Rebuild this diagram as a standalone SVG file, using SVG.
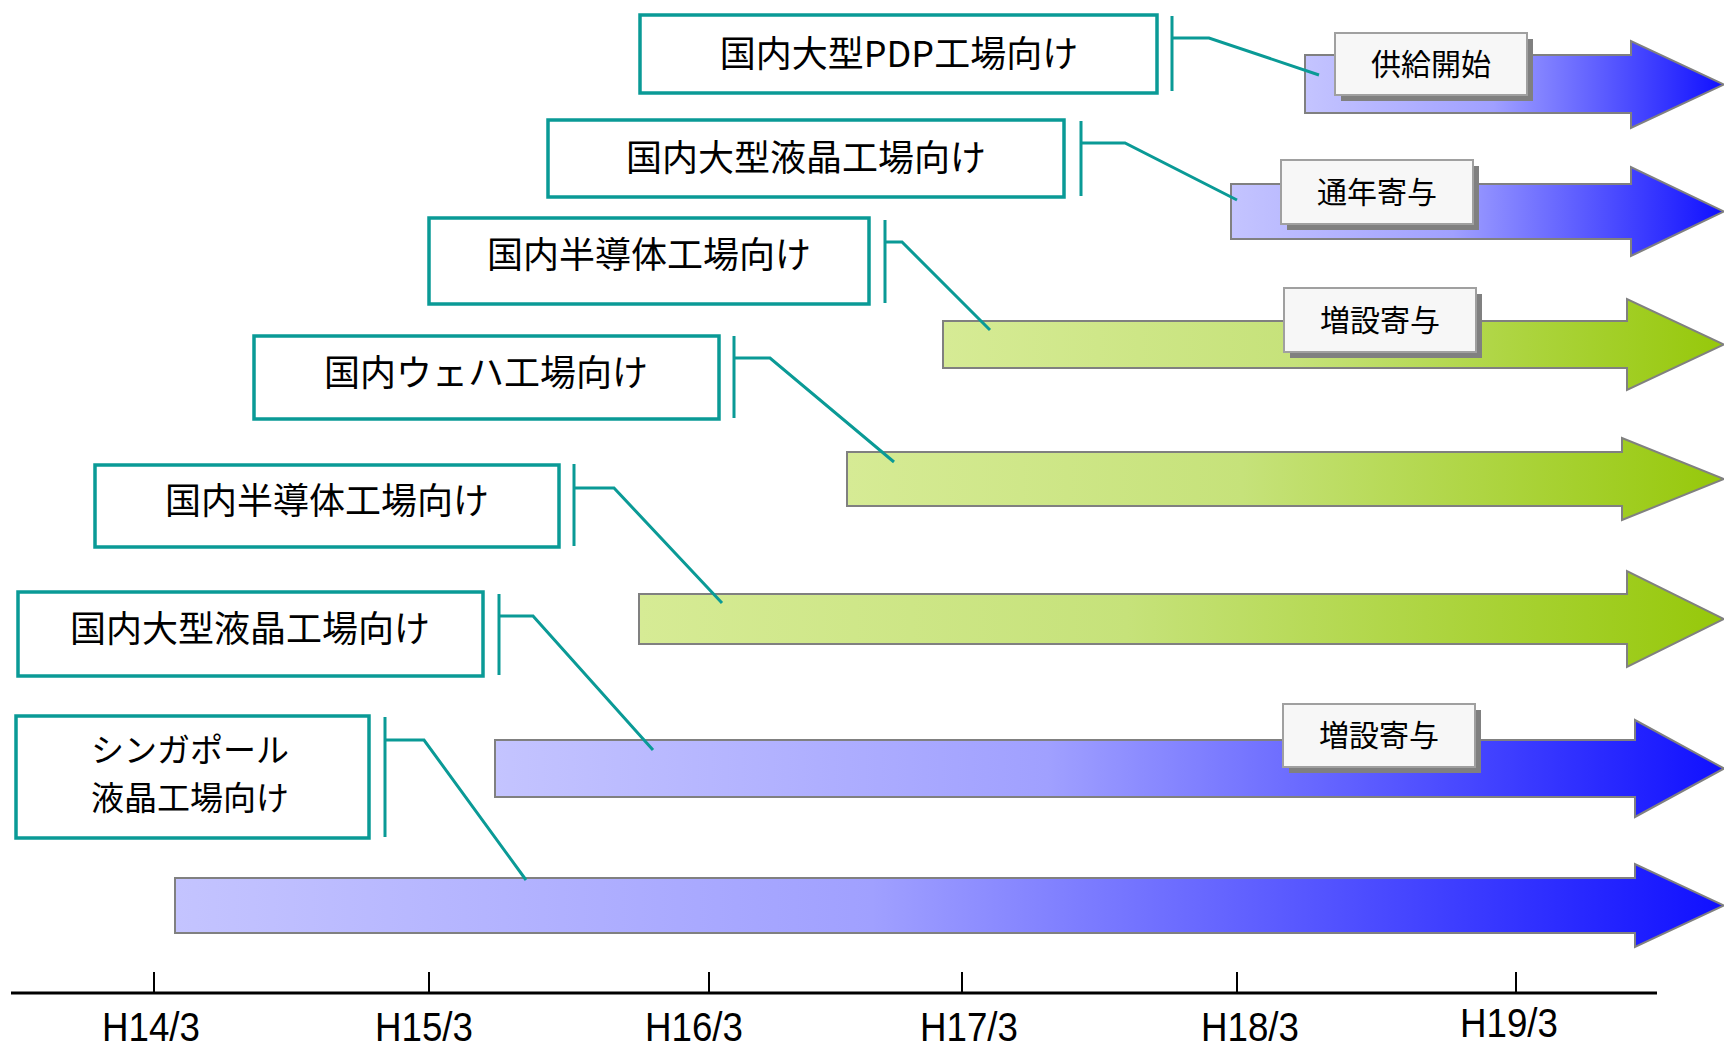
<svg xmlns="http://www.w3.org/2000/svg" width="1724" height="1046" viewBox="0 0 1724 1046">
<style>
.box{fill:#fff;stroke:#0a9a96;stroke-width:3.5}
.br{fill:none;stroke:#0a9a96;stroke-width:3}
.t{font-family:"Noto Sans CJK JP","Noto Sans",sans-serif;font-size:36px;fill:#000;text-anchor:middle}
.t2{font-family:"Noto Sans CJK JP","Noto Sans",sans-serif;font-size:33px;fill:#000;text-anchor:middle}
.lt{font-family:"Noto Sans CJK JP","Noto Sans",sans-serif;font-size:30px;fill:#000;text-anchor:middle}
.ax{font-family:"Liberation Sans",Arial,sans-serif;font-size:40px;fill:#000;text-anchor:middle}
.arr{stroke:#808080;stroke-width:2}
.lb{fill:#f7f7f7;stroke:#a0a0a0;stroke-width:2}
.sh{fill:#808080}
</style>
<defs>
<linearGradient id="gb" x1="0" y1="0" x2="1" y2="0">
<stop offset="0" stop-color="#c4c4ff"/>
<stop offset="0.45" stop-color="#a0a0ff"/>
<stop offset="1" stop-color="#1010ff"/>
</linearGradient>
<linearGradient id="gg" x1="0" y1="0" x2="1" y2="0">
<stop offset="0" stop-color="#d6eb95"/>
<stop offset="0.45" stop-color="#c6e27a"/>
<stop offset="1" stop-color="#96c80a"/>
</linearGradient>
</defs>

<g id="arrows">
<path class="arr" fill="url(#gb)" d="M1305 55H1631V41L1724 84.5L1631 128V113H1305Z"/>
<path class="arr" fill="url(#gb)" d="M1231 184H1631V167L1724 211.5L1631 256V239H1231Z"/>
<path class="arr" fill="url(#gg)" d="M943 321H1627V299L1724 344.5L1627 390V368H943Z"/>
<path class="arr" fill="url(#gg)" d="M847 452H1622V438L1724 479L1622 520V506H847Z"/>
<path class="arr" fill="url(#gg)" d="M639 594H1627V571L1724 619L1627 667V644H639Z"/>
<path class="arr" fill="url(#gb)" d="M495 740H1635V720L1724 768.5L1635 817V797H495Z"/>
<path class="arr" fill="url(#gb)" d="M175 878H1635V864L1724 905.5L1635 947V933H175Z"/>
</g>

<g id="connectors">
<path class="br" d="M1172 16V91M1172 38H1209L1319 75"/>
<path class="br" d="M1081 121V196M1081 143H1125L1237 200"/>
<path class="br" d="M885 220V303M885 242H902L990 330"/>
<path class="br" d="M734 336V418M734 358H770L894 462"/>
<path class="br" d="M574 464V546M574 488H614L722 603"/>
<path class="br" d="M499 594V675M499 616H533L653 750"/>
<path class="br" d="M385 717V837M385 740H424L526 880"/>
</g>

<g id="node-pdp">
<rect class="box" x="640" y="15" width="517" height="78"/>
<text class="t" x="899" y="67">国内大型PDP工場向け</text>
</g>
<g id="node-lcd1">
<rect class="box" x="548" y="120" width="516" height="77"/>
<text class="t" x="806" y="171">国内大型液晶工場向け</text>
</g>
<g id="node-semi1">
<rect class="box" x="429" y="218" width="440" height="86"/>
<text class="t" x="649" y="268">国内半導体工場向け</text>
</g>
<g id="node-wafer">
<rect class="box" x="254" y="336" width="465" height="83"/>
<text class="t" x="486" y="386">国内ウェハ工場向け</text>
</g>
<g id="node-semi2">
<rect class="box" x="95" y="465" width="464" height="82"/>
<text class="t" x="327" y="514">国内半導体工場向け</text>
</g>
<g id="node-lcd2">
<rect class="box" x="18" y="592" width="465" height="84"/>
<text class="t" x="250" y="642">国内大型液晶工場向け</text>
</g>
<g id="node-sg">
<rect class="box" x="16" y="716" width="353" height="122"/>
<text class="t2" x="190" y="762">シンガポール</text>
<text class="t2" x="190" y="810">液晶工場向け</text>
</g>

<g id="label-1">
<rect class="sh" x="1341" y="39" width="192" height="62"/>
<rect class="lb" x="1335" y="33" width="192" height="62"/>
<text class="lt" x="1431" y="75">供給開始</text>
</g>
<g id="label-2">
<rect class="sh" x="1287" y="166" width="192" height="64"/>
<rect class="lb" x="1281" y="160" width="192" height="64"/>
<text class="lt" x="1377" y="203">通年寄与</text>
</g>
<g id="label-3">
<rect class="sh" x="1290" y="294" width="192" height="64"/>
<rect class="lb" x="1284" y="288" width="192" height="64"/>
<text class="lt" x="1380" y="331">増設寄与</text>
</g>
<g id="label-4">
<rect class="sh" x="1289" y="710" width="192" height="63"/>
<rect class="lb" x="1283" y="704" width="192" height="63"/>
<text class="lt" x="1379" y="746">増設寄与</text>
</g>

<g id="axis" stroke="#000">
<line x1="11" y1="993" x2="1657" y2="993" stroke-width="3"/>
<line x1="154" y1="972" x2="154" y2="993" stroke-width="2"/>
<line x1="429" y1="972" x2="429" y2="993" stroke-width="2"/>
<line x1="709" y1="972" x2="709" y2="993" stroke-width="2"/>
<line x1="962" y1="972" x2="962" y2="993" stroke-width="2"/>
<line x1="1237" y1="972" x2="1237" y2="993" stroke-width="2"/>
<line x1="1516" y1="972" x2="1516" y2="993" stroke-width="2"/>
</g>
<g id="axis-labels">
<text class="ax" x="151" y="1041" textLength="98" lengthAdjust="spacingAndGlyphs">H14/3</text>
<text class="ax" x="424" y="1041" textLength="98" lengthAdjust="spacingAndGlyphs">H15/3</text>
<text class="ax" x="694" y="1041" textLength="98" lengthAdjust="spacingAndGlyphs">H16/3</text>
<text class="ax" x="969" y="1041" textLength="98" lengthAdjust="spacingAndGlyphs">H17/3</text>
<text class="ax" x="1250" y="1041" textLength="98" lengthAdjust="spacingAndGlyphs">H18/3</text>
<text class="ax" x="1509" y="1037" textLength="98" lengthAdjust="spacingAndGlyphs">H19/3</text>
</g>
</svg>
